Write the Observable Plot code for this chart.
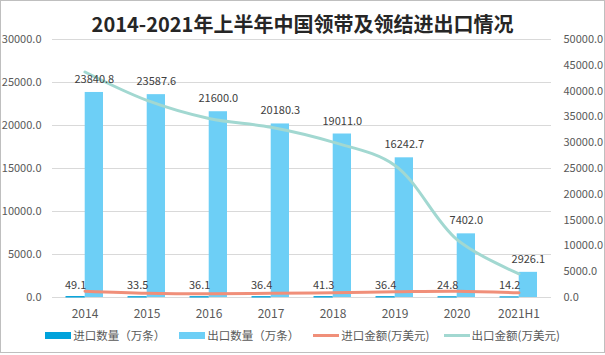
<!DOCTYPE html>
<html><head><meta charset="utf-8">
<script src="https://cdn.jsdelivr.net/npm/d3@7"></script>
<script src="https://cdn.jsdelivr.net/npm/@observablehq/plot@0.6"></script>
<style>
body{margin:0;background:#fff;font-family:"Noto Sans CJK SC","Noto Sans",sans-serif;}
#chart{position:relative;width:603px;height:351px;border:1px solid #bfbfbf;background:#fff;overflow:hidden}
#title{position:absolute;top:10px;left:0;width:100%;text-align:center;font-size:20px;font-weight:700;line-height:26px;color:#262626}
#plot{position:absolute;top:29px;left:0}
#legend{position:absolute;top:325px;left:0;width:100%;display:flex;justify-content:center;gap:14px;font-size:11.5px;color:#595959;line-height:18px}
.item{display:flex;align-items:center;gap:2px}
.sw{width:26px;height:7px}
.ln{width:26px;height:3px}
</style></head><body>
<div id="chart"><div id="title">2014-2021年上半年中国领带及领结进出口情况</div><div id="plot"></div><div id="legend"></div></div>
<script>
const years = ["2014","2015","2016","2017","2018","2019","2020","2021H1"];
const importQty = [49.1, 33.5, 36.1, 36.4, 41.3, 36.4, 24.8, 14.2];
const exportQty = [23840.8, 23587.6, 21600.0, 20180.3, 19011.0, 16242.7, 7402.0, 2926.1];
const importAmt = [1220, 830, 720, 830, 910, 1100, 1220, 910];
const exportAmt = [43700, 38200, 34700, 33000, 30100, 25600, 11200, 4600];
const leftTicks = [0, 5000, 10000, 15000, 20000, 25000, 30000];
const rightTicks = [0, 5000, 10000, 15000, 20000, 25000, 30000, 35000, 40000, 45000, 50000];
const seriesNames = ["进口数量（万条）", "出口数量（万条）", "进口金额(万美元)", "出口金额(万美元)"];
const colors = ["#00A2DB", "#6DCFF6", "#F08F79", "#A2D8D1"];

const scaleR = 30000 / 50000;
const W = 603, ML = 51, MR = 53, MT = 9, MB = 30, H = 297;
const padIn = 0.4, padOut = 0.2;
const step = (W - ML - MR) / (years.length - padIn + 2 * padOut);
const bw = step * (1 - padIn);
const rows = years.map((y, i) => ({year: y, iq: importQty[i], eq: exportQty[i], ia: importAmt[i] * scaleR, ea: exportAmt[i] * scaleR}));
const font = '"Noto Sans CJK SC","Noto Sans",sans-serif';

const plot = Plot.plot({
  width: W, height: H, marginLeft: ML, marginRight: MR, marginTop: MT, marginBottom: MB,
  style: {fontFamily: font, fontSize: "11px", color: "#595959", background: "transparent", overflow: "visible"},
  x: {type: "band", domain: years, paddingInner: padIn, paddingOuter: padOut, label: null},
  y: {domain: [0, 30000], label: null},
  marks: [
    Plot.gridY(leftTicks, {stroke: "#d9d9d9", strokeOpacity: 1}),
    Plot.axisY(leftTicks, {tickSize: 0, tickPadding: 11, tickFormat: d => d.toFixed(1), fontSize: 11, label: null}),
    Plot.text(rightTicks, {y: d => d * scaleR, text: d => d.toFixed(1), frameAnchor: "right", textAnchor: "start", dx: 12, fill: "#595959", fontSize: 11}),
    Plot.axisX({tickSize: 0, tickPadding: 12, fontSize: 12, label: null}),
    Plot.barY(rows, {x: "year", y: "iq", fill: colors[0], stroke: colors[0], strokeWidth: 1, insetRight: bw / 2}),
    Plot.barY(rows, {x: "year", y: "eq", fill: colors[1], insetLeft: bw / 2}),
    Plot.lineY(rows, {x: "year", y: "ia", stroke: colors[2], strokeWidth: 3, curve: "catmull-rom"}),
    Plot.lineY(rows, {x: "year", y: "ea", stroke: colors[3], strokeWidth: 3, curve: "catmull-rom"}),
    Plot.text(rows, {x: "year", y: "iq", text: d => d.iq.toFixed(1), dx: -bw / 4, dy: -12, fill: "#404040", fontSize: 11}),
    Plot.text(rows, {x: "year", y: "eq", text: d => d.eq.toFixed(1), dx: bw / 4, dy: -13, fill: "#404040", fontSize: 11})
  ]
});
document.getElementById("plot").appendChild(plot);

const legend = document.getElementById("legend");
seriesNames.forEach((name, i) => {
  const item = document.createElement("div");
  item.className = "item";
  const sw = document.createElement("span");
  sw.className = i < 2 ? "sw" : "ln";
  sw.style.background = colors[i];
  const t = document.createElement("span");
  t.textContent = name;
  item.appendChild(sw); item.appendChild(t);
  legend.appendChild(item);
});
</script>
</body></html>
